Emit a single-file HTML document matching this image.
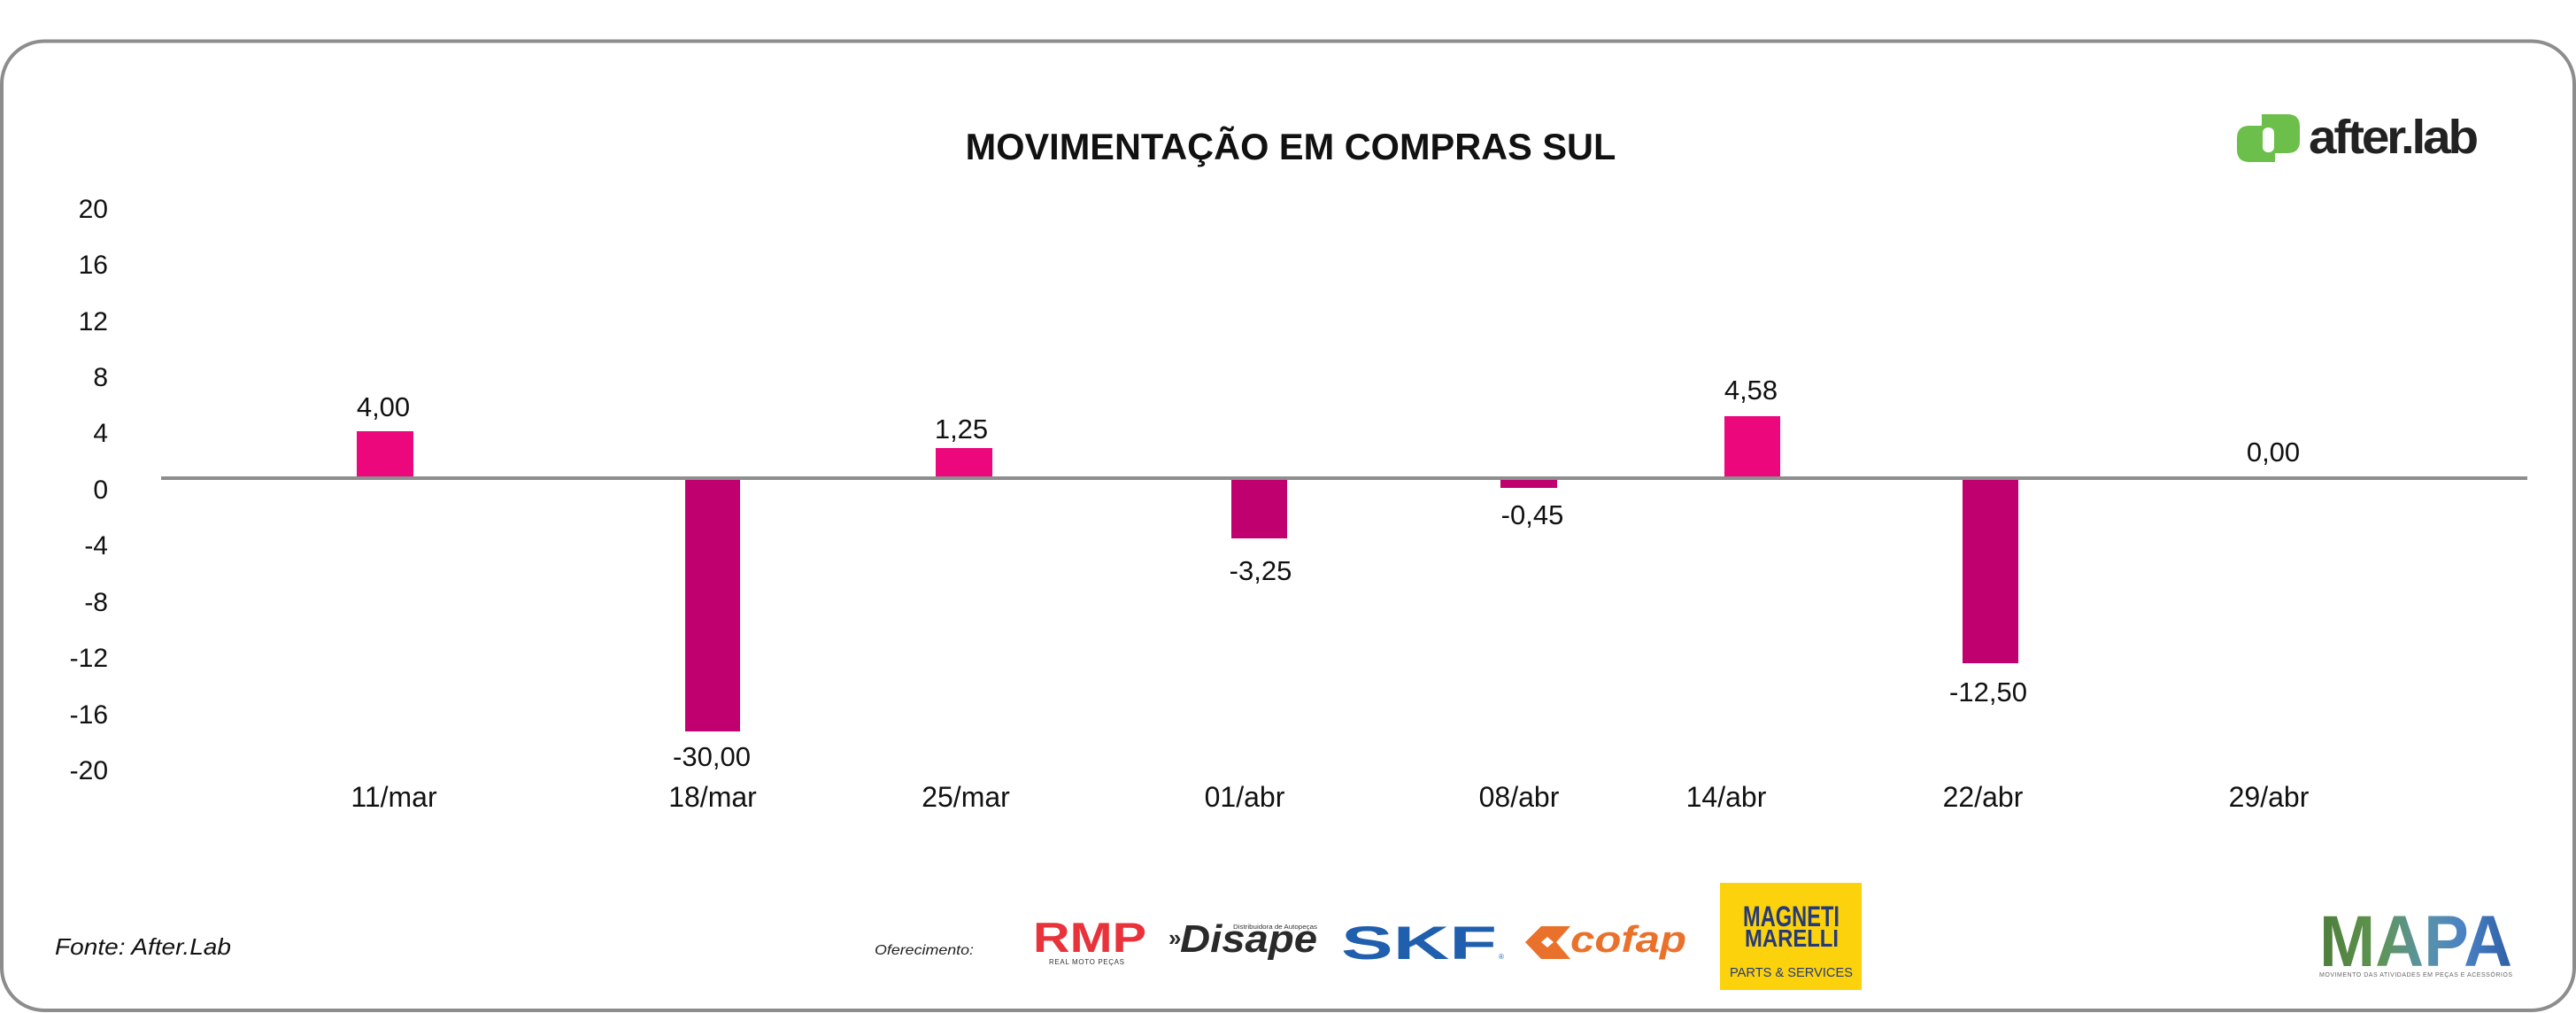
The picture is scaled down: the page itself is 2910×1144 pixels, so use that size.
<!DOCTYPE html>
<html>
<head>
<meta charset="utf-8">
<style>
  html, body { margin: 0; padding: 0; background: #ffffff; }
  body { width: 2910px; height: 1144px; overflow: hidden; }
  svg { display: block; }
  text { font-family: "Liberation Sans", "DejaVu Sans", sans-serif; }
</style>
</head>
<body>
<svg width="2910" height="1144" viewBox="0 0 2910 1144" xmlns="http://www.w3.org/2000/svg">
  <defs>
    <linearGradient id="mapaGrad" x1="0" y1="0" x2="1" y2="0">
      <stop offset="0" stop-color="#4d7d3b"/>
      <stop offset="0.3" stop-color="#5f9450"/>
      <stop offset="0.55" stop-color="#5a93a8"/>
      <stop offset="0.75" stop-color="#4a82c4"/>
      <stop offset="1" stop-color="#2f5ea6"/>
    </linearGradient>
  </defs>

  <!-- outer rounded frame -->
  <rect x="2" y="46.5" width="2906" height="1094.5" rx="48" ry="48" fill="#ffffff" stroke="#8d8d8d" stroke-width="4"/>

  <!-- title -->
  <text x="1458" y="180" font-size="41.5" font-weight="bold" fill="#111" text-anchor="middle">MOVIMENTAÇÃO EM COMPRAS SUL</text>

  <!-- after.lab logo -->
  <g>
    <path d="M2555 129 H2584 Q2598 129 2598 143 V159 Q2598 173 2584 173 H2555 Z" fill="#6cbf4a"/>
    <path d="M2541 142 H2570 V183 H2541 Q2527 183 2527 169 V156 Q2527 142 2541 142 Z" fill="#6cbf4a"/>
    <rect x="2556" y="144" width="13" height="28" rx="6" fill="#ffffff"/>
    <text x="2608" y="173" font-size="54" font-weight="bold" fill="#222" letter-spacing="-3" textLength="189" lengthAdjust="spacingAndGlyphs">after.lab</text>
  </g>

  <!-- y axis labels -->
  <g font-size="30" fill="#111" text-anchor="end">
    <text x="122" y="246">20</text>
    <text x="122" y="309">16</text>
    <text x="122" y="373">12</text>
    <text x="122" y="436">8</text>
    <text x="122" y="499">4</text>
    <text x="122" y="563">0</text>
    <text x="122" y="626">-4</text>
    <text x="122" y="690">-8</text>
    <text x="122" y="753">-12</text>
    <text x="122" y="817">-16</text>
    <text x="122" y="880">-20</text>
  </g>

  <!-- bars -->
  <rect x="403" y="487" width="64" height="52" fill="#ec077d"/>
  <rect x="774" y="541" width="62" height="285" fill="#c10070"/>
  <rect x="1057" y="506" width="64" height="33" fill="#ec077d"/>
  <rect x="1391" y="541" width="63" height="67" fill="#c10070"/>
  <rect x="1695" y="541" width="64" height="10" fill="#c10070"/>
  <rect x="1948" y="470" width="63" height="69" fill="#ec077d"/>
  <rect x="2217" y="541" width="63" height="208" fill="#c10070"/>

  <!-- zero line -->
  <rect x="182" y="538" width="2673" height="4" fill="#8e8e8e"/>

  <!-- value labels -->
  <g font-size="31" fill="#111" text-anchor="middle">
    <text x="433" y="470">4,00</text>
    <text x="804" y="865">-30,00</text>
    <text x="1086" y="495">1,25</text>
    <text x="1424" y="655">-3,25</text>
    <text x="1731" y="592">-0,45</text>
    <text x="1978" y="451">4,58</text>
    <text x="2246" y="792">-12,50</text>
    <text x="2568" y="521">0,00</text>
  </g>

  <!-- x axis labels -->
  <g font-size="32" fill="#111" text-anchor="middle">
    <text x="445" y="911">11/mar</text>
    <text x="805" y="911">18/mar</text>
    <text x="1091" y="911">25/mar</text>
    <text x="1406" y="911">01/abr</text>
    <text x="1716" y="911">08/abr</text>
    <text x="1950" y="911">14/abr</text>
    <text x="2240" y="911">22/abr</text>
    <text x="2563" y="911">29/abr</text>
  </g>

  <!-- source -->
  <text x="62" y="1078" font-size="26" font-style="italic" fill="#111" textLength="199" lengthAdjust="spacingAndGlyphs">Fonte: After.Lab</text>

  <!-- sponsors -->
  <text x="988" y="1078" font-size="16" font-style="italic" fill="#222" textLength="112" lengthAdjust="spacingAndGlyphs">Oferecimento:</text>

  <!-- RMP -->
  <text x="1167" y="1075" font-size="47" font-weight="bold" fill="#e8333b" textLength="128" lengthAdjust="spacingAndGlyphs">RMP</text>
  <text x="1185" y="1089" font-size="8" fill="#333" textLength="85" lengthAdjust="spacing">REAL MOTO PEÇAS</text>

  <!-- Disape -->
  <text x="1320" y="1068" font-size="26" font-weight="bold" fill="#2a2a2a">»</text>
  <text x="1333" y="1075" font-size="44" font-weight="bold" font-style="italic" fill="#2a2a2a" textLength="155" lengthAdjust="spacingAndGlyphs">Disape</text>
  <text x="1393" y="1049" font-size="7" fill="#333" textLength="95" lengthAdjust="spacingAndGlyphs">Distribuidora de Autopeças</text>

  <!-- SKF -->
  <text x="1515" y="1083" font-size="53" font-weight="bold" fill="#1f5fae" textLength="176" lengthAdjust="spacingAndGlyphs">SKF</text>
  <text x="1693" y="1083" font-size="8" fill="#1f5fae">®</text>

  <!-- cofap -->
  <path d="M1741 1046 H1774 L1758 1064 L1774 1083 H1741 L1723 1064 Z" fill="#e9712b"/>
  <path d="M1748 1058 L1755 1064 L1748 1070 L1741 1064 Z" fill="#ffffff"/>
  <text x="1774" y="1075" font-size="42" font-weight="bold" font-style="italic" fill="#e9712b" textLength="131" lengthAdjust="spacingAndGlyphs">cofap</text>

  <!-- Magneti Marelli -->
  <rect x="1943" y="997" width="160" height="121" fill="#fcd20c"/>
  <text x="1969" y="1046" font-size="32" font-weight="bold" fill="#253a7a" textLength="109" lengthAdjust="spacingAndGlyphs">MAGNETI</text>
  <text x="1971" y="1069" font-size="28" font-weight="bold" fill="#253a7a" textLength="106" lengthAdjust="spacingAndGlyphs">MARELLI</text>
  <text x="1954" y="1103" font-size="15" fill="#253a7a" textLength="139" lengthAdjust="spacingAndGlyphs">PARTS &amp; SERVICES</text>

  <!-- MAPA -->
  <text x="2620" y="1091" font-size="82" font-weight="bold" fill="url(#mapaGrad)" textLength="218" lengthAdjust="spacingAndGlyphs">MAPA</text>
  <text x="2620" y="1103" font-size="7" fill="#666" textLength="218" lengthAdjust="spacing">MOVIMENTO DAS ATIVIDADES EM PEÇAS E ACESSÓRIOS</text>
</svg>
</body>
</html>
